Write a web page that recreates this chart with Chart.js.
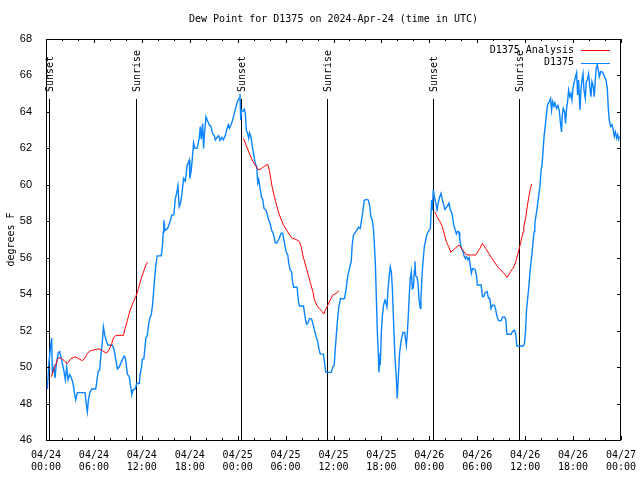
<!DOCTYPE html>
<html>
<head>
<meta charset="utf-8">
<title>Dew Point for D1375</title>
<script src="https://cdn.jsdelivr.net/npm/chart.js@4.4.1/dist/chart.umd.min.js"></script>
<style>
  body { margin: 0; background: #fff; }
  #wrap { width: 640px; height: 480px; }
</style>
</head>
<body>
<div id="wrap"><canvas id="chartDew"></canvas></div>
<script>
// --- data (x = hours since 04/24 00:00 UTC)
const titleText = "Dew Point for D1375 on 2024-Apr-24 (time in UTC)";
const dayLabels = ["04/24", "04/25", "04/26", "04/27"];
const timeLabels = ["00:00", "06:00", "12:00", "18:00"];

const stationHours = [
  0.17, 0.38, 0.59, 0.71, 0.79, 1.0, 1.13, 1.3, 1.55, 1.71, 1.84, 2.05, 2.26, 2.42, 2.59, 2.76, 2.97, 3.18, 3.39, 3.55,
  3.72, 3.93, 4.35, 4.89, 5.06, 5.18, 5.31, 5.48, 5.73, 6.23, 6.36, 6.52, 6.73, 6.86, 7.07, 7.19, 7.36, 7.57, 7.78, 8.32,
  8.53, 8.74, 8.95, 9.16, 9.45, 9.78, 9.95, 10.08, 10.2, 10.41, 10.54, 10.66, 10.75, 10.91, 11.16, 11.37, 11.67, 11.79, 11.96, 12.08,
  12.25, 12.38, 12.5, 12.67, 12.84, 13.0, 13.17, 13.34, 13.46, 13.59, 13.76, 13.92, 14.43, 14.59, 14.68, 14.75, 14.9, 15.22, 15.55, 15.76,
  16.01, 16.18, 16.39, 16.52, 16.68, 16.85, 17.02, 17.14, 17.23, 17.43, 17.56, 17.68, 17.81, 17.94, 18.02, 18.19, 18.35, 18.48, 18.65, 18.9,
  19.07, 19.19, 19.32, 19.44, 19.61, 19.73, 19.86, 20.03, 20.24, 20.45, 20.66, 20.86, 21.07, 21.2, 21.41, 21.62, 21.78, 22.03, 22.2, 22.45,
  22.62, 22.83, 22.96, 23.17, 23.37, 23.58, 23.79, 24.0, 24.17, 24.29, 24.38, 24.5, 24.67, 24.84, 24.96, 25.09, 25.26, 25.38, 25.5, 25.68,
  25.8, 25.97, 26.18, 26.39, 26.51, 26.64, 26.8, 26.97, 27.14, 27.3, 27.56, 27.72, 27.89, 28.06, 28.22, 28.47, 28.73, 28.89, 29.14, 29.44,
  29.64, 29.9, 30.07, 30.27, 30.4, 30.57, 30.73, 30.9, 31.02, 31.44, 31.61, 31.74, 32.24, 32.36, 32.49, 32.61, 32.78, 32.99, 33.24, 33.41,
  33.62, 33.83, 34.03, 34.16, 34.33, 34.75, 34.91, 35.04, 35.71, 35.92, 36.09, 36.21, 36.34, 36.5, 36.67, 36.88, 37.17, 37.38, 37.59, 37.8,
  38.01, 38.22, 38.34, 38.51, 38.76, 39.14, 39.35, 39.51, 39.68, 39.85, 40.1, 40.35, 40.51, 40.68, 40.85, 41.02, 41.23, 41.36, 41.48, 41.61,
  41.69, 41.77, 41.86, 41.98, 42.11, 42.27, 42.44, 42.52, 42.69, 42.82, 42.94, 43.11, 43.24, 43.36, 43.53, 43.69, 43.86, 43.98, 44.11, 44.28,
  44.49, 44.7, 44.91, 45.12, 45.24, 45.37, 45.49, 45.62, 45.74, 45.87, 46.0, 46.12, 46.2, 46.29, 46.45, 46.58, 46.7, 46.87, 46.95, 47.08,
  47.2, 47.37, 47.54, 47.71, 47.96, 48.13, 48.29, 48.38, 48.5, 48.63, 48.8, 48.96, 49.13, 49.3, 49.46, 49.63, 49.8, 49.96, 50.21, 50.47,
  50.63, 50.84, 51.05, 51.26, 51.39, 51.56, 51.72, 51.81, 52.02, 52.22, 52.35, 52.52, 52.65, 52.81, 52.98, 53.15, 53.27, 53.4, 53.56, 53.73,
  53.9, 54.02, 54.48, 54.65, 54.82, 54.98, 55.23, 55.41, 55.57, 55.73, 55.91, 56.16, 56.32, 56.49, 56.66, 56.99, 57.16, 57.41, 57.58, 57.66,
  57.74, 58.24, 58.42, 58.67, 58.83, 58.96, 59.75, 59.92, 60.05, 60.17, 60.34, 60.46, 60.59, 60.75, 60.88, 61.0, 61.13, 61.21, 61.43, 61.63,
  61.84, 62.0, 62.13, 62.26, 62.38, 62.51, 62.68, 62.8, 63.01, 63.18, 63.3, 63.43, 63.6, 63.72, 63.93, 64.1, 64.26, 64.43, 64.56, 64.64,
  64.77, 64.94, 65.06, 65.19, 65.31, 65.44, 65.6, 65.73, 65.86, 65.98, 66.15, 66.31, 66.44, 66.57, 66.69, 66.86, 66.98, 67.11, 67.24, 67.36,
  67.53, 67.65, 67.78, 67.95, 68.11, 68.24, 68.36, 68.53, 68.65, 68.78, 68.9, 69.03, 69.16, 69.28, 69.45, 69.62, 69.78, 69.95, 70.12, 70.28,
  70.41, 70.53, 70.71, 70.87, 71.04, 71.16, 71.29, 71.46, 71.58, 71.71, 71.79
];
const stationValues = [
  48.8, 50.3, 51.2, 51.6, 49.7, 50.0, 49.4, 50.2, 50.8, 50.85, 50.6, 50.2, 49.75, 49.3, 50.0, 49.3, 49.6, 49.4, 49.1, 48.6,
  48.2, 48.6, 48.6, 48.6, 47.9, 47.55, 48.2, 48.6, 48.8, 48.8, 49.2, 49.75, 49.85, 50.6, 51.45, 52.2, 51.75, 51.4, 51.2, 51.2,
  50.95, 50.4, 49.9, 50.0, 50.3, 50.6, 50.5, 50.0, 49.6, 49.5, 49.1, 48.75, 48.5, 48.75, 48.8, 49.1, 49.1, 49.6, 50.0, 50.45,
  50.45, 51.0, 51.6, 51.7, 52.3, 52.7, 52.85, 53.4, 54.05, 54.8, 55.6, 56.1, 56.1, 56.7, 57.4, 58.05, 57.5, 57.6, 58.0, 58.35,
  58.35, 59.2, 59.6, 59.95, 58.8, 59.0, 59.5, 60.0, 60.35, 60.2, 60.6, 61.1, 61.2, 61.35, 60.35, 60.8, 61.6, 62.3, 62.0, 62.0,
  62.3, 62.55, 63.2, 62.5, 63.36, 62.0, 62.9, 63.73, 63.5, 63.28, 63.2, 62.8, 62.7, 62.46, 62.6, 62.7, 62.43, 62.6, 62.46, 62.7,
  63.0, 63.3, 63.1, 63.3, 63.55, 63.92, 64.28, 64.6, 64.74, 65.0, 63.55, 64.1, 64.05, 64.15, 63.9, 63.0, 62.8, 62.55, 62.85, 62.6,
  62.2, 61.74, 61.2, 61.0, 60.1, 60.3, 59.8, 59.35, 59.2, 58.7, 58.6, 58.35, 58.07, 57.9, 57.55, 57.3, 56.8, 56.8, 57.0, 57.34,
  57.34, 56.7, 56.33, 56.15, 55.7, 55.33, 55.25, 54.6, 54.38, 54.38, 53.6, 53.35, 53.35, 53.0, 52.62, 52.35, 52.4, 52.67, 52.65, 52.4,
  52.03, 51.67, 51.4, 51.03, 50.72, 50.7, 50.11, 49.71, 49.71, 50.0, 50.1, 50.94, 51.67, 52.58, 53.31, 53.77, 53.74, 53.77, 54.32, 55.05,
  55.4, 55.8, 56.7, 57.25, 57.4, 57.67, 57.6, 58.07, 58.54, 59.14, 59.2, 59.17, 58.9, 58.26, 58.07, 57.5, 55.8, 53.87, 52.03, 50.76,
  49.7, 50.4, 50.1, 51.85, 52.76, 53.4, 53.68, 53.6, 53.3, 54.23, 54.87, 55.5, 55.23, 54.41, 52.4, 50.57, 49.47, 48.28, 49.4, 50.8,
  51.5, 51.9, 51.9, 51.2, 51.8, 52.86, 53.95, 54.87, 55.23, 54.3, 54.35, 55.3, 55.8, 55.0, 54.95, 54.6, 53.77, 53.22, 53.77, 54.97,
  55.73, 56.6, 56.97, 57.3, 57.5, 57.6, 59.17, 58.6, 59.75, 59.35, 59.03, 58.63, 59.03, 59.35, 59.53, 59.17, 58.9, 58.65, 58.8, 59.0,
  58.63, 58.43, 57.8, 57.5, 57.3, 57.45, 57.4, 57.0, 56.5, 56.35, 56.1, 55.96, 56.05, 55.9, 56.0, 55.5, 55.15, 55.4, 55.4, 55.35,
  55.04, 54.5, 54.5, 53.87, 53.87, 54.08, 54.14, 53.77, 53.77, 53.22, 53.4, 53.4, 53.13, 52.76, 52.55, 52.55, 52.73, 52.76, 52.6, 52.03,
  51.8, 51.8, 51.95, 52.03, 51.8, 51.16, 51.16, 51.3, 52.03, 53.13, 53.87, 54.41, 55.14, 55.8, 56.33, 56.97, 57.43, 57.88, 58.52, 59.17,
  59.9, 60.81, 61.18, 62.0, 62.73, 63.19, 63.92, 64.38, 64.56, 64.74, 64.1, 64.56, 64.3, 64.5, 64.2, 64.35, 64.1, 63.36, 62.9, 63.8,
  64.2, 64.0, 63.36, 64.2, 64.56, 65.2, 64.83, 65.0, 64.65, 65.29, 65.66, 65.93, 66.15, 64.93, 65.75, 64.1, 65.2, 65.75, 66.1, 65.2,
  64.74, 65.66, 65.75, 66.1, 65.3, 64.83, 65.66, 65.4, 64.83, 65.75, 66.4, 66.57, 66.3, 65.93, 66.2, 66.2, 66.1, 65.93, 65.75, 65.3,
  64.2, 63.55, 63.2, 63.3, 63.0, 62.65, 62.9, 62.55, 62.75, 62.5, 62.65
];

// analysis runs: null marks a break between the three runs
const analysisHours = [
  0.67, 1.0, 1.21, 1.42, 1.63, 2.05, 2.38, 2.68, 3.09, 3.64, 4.14, 4.56, 4.89, 5.18, 5.6, 6.02, 6.65, 7.07, 7.57, 7.9,
  8.24, 8.45, 8.74, 9.7, 9.91, 10.2, 10.54, 10.95, 11.25, 11.58, 11.87, 12.21, 12.5, 12.71,
  18,
  24.71, 25.05, 25.46, 25.88, 26.3, 26.63, 27.14, 27.76, 27.97, 28.31, 28.73, 29.23, 29.73, 30.15, 30.27, 30.73, 31.32, 31.74, 31.95, 32.15,
  32.49, 32.78, 33.12, 33.41, 33.62, 33.91, 34.25, 34.54, 34.79, 35.0, 35.29, 35.58, 35.92, 36.34, 36.67,
  42,
  48.67, 48.96, 49.3, 49.63, 49.8, 50.13, 50.43, 50.68, 51.18, 51.72, 52.22, 52.65, 53.27, 53.81, 54.32, 54.65, 55.07, 55.57, 56.11, 56.7,
  57.24, 57.74, 58.16, 58.58, 58.83, 59.04, 59.25, 59.46, 59.75, 59.83, 60.09, 60.29, 60.5, 60.67, 60.8
];
const analysisValues = [
  49.47, 49.9, 50.11, 50.4, 50.53, 50.45, 50.3, 50.2, 50.45, 50.57, 50.45, 50.35, 50.5, 50.76, 50.9, 50.95, 51.0, 50.9, 50.76, 50.95,
  51.3, 51.6, 51.74, 51.74, 52.13, 52.58, 53.13, 53.59, 53.87, 54.32, 54.78, 55.23, 55.6, 55.75,
  null,
  62.55, 62.18, 61.73, 61.3, 61.0, 60.81, 60.95, 61.13, 60.8, 59.9, 59.1, 58.34, 57.8, 57.5, 57.42, 57.1, 57.0, 56.88, 56.6, 56.15,
  55.6, 55.15, 54.6, 54.14, 53.68, 53.4, 53.2, 53.06, 52.91, 53.15, 53.4, 53.68, 53.95, 54.05, 54.17,
  null,
  58.52, 58.26, 58.0, 57.7, 57.42, 56.88, 56.6, 56.3, 56.5, 56.7, 56.4, 56.15, 56.15, 56.15, 56.5, 56.79, 56.5, 56.15, 55.78, 55.42,
  55.2, 54.92, 55.23, 55.5, 55.78, 56.15, 56.5, 56.88, 57.42, 57.7, 58.26, 58.9, 59.45, 59.8, 60.04
];

// sun events (hours since 04/24 00:00 UTC)
const sunEventHours = [0.38, 11.27, 24.45, 35.22, 48.5, 59.27];
const sunEventNames = ["Sunset", "Sunrise", "Sunset", "Sunrise", "Sunset", "Sunrise"];

const MONO = "'DejaVu Sans Mono', 'Liberation Mono', monospace";
const SANS = "'Liberation Sans', Arial, sans-serif";

function toPoints(xs, ys) {
  return xs.map((x, i) => ({ x: x, y: ys[i] }));
}

// gnuplot-like frame, inward ticks, sun markers, legend and title
const gnuFrame = {
  id: "gnuFrame",
  beforeDatasetsDraw(chart) {
    const { ctx, chartArea: a, scales } = chart;
    ctx.save();
    ctx.strokeStyle = "#000";
    ctx.lineWidth = 1;
    ctx.fillStyle = "#000";
    ctx.font = "10px " + MONO;
    sunEventHours.forEach((h, i) => {
      const px = Math.round(scales.x.getPixelForValue(h)) + 0.5;
      ctx.beginPath();
      ctx.moveTo(px, a.top + 60);
      ctx.lineTo(px, a.bottom);
      ctx.stroke();
      ctx.save();
      ctx.translate(px + 1, a.top + 53);
      ctx.rotate(-Math.PI / 2);
      ctx.textAlign = "left";
      ctx.textBaseline = "middle";
      ctx.fillText(sunEventNames[i], 0, 0);
      ctx.restore();
    });
    ctx.restore();
  },
  afterDraw(chart) {
    const { ctx, chartArea: a, scales } = chart;
    ctx.save();
    ctx.strokeStyle = "#000";
    ctx.lineWidth = 1;
    ctx.strokeRect(a.left + 0.5, a.top + 0.5, a.right - a.left - 1, a.bottom - a.top);

    // x ticks every 2 h, major every 6 h, on bottom and top
    ctx.beginPath();
    for (let h = 0; h <= 72; h += 2) {
      const px = Math.round(scales.x.getPixelForValue(h)) + 0.5;
      const len = h % 6 === 0 ? 4 : 2;
      ctx.moveTo(px, a.bottom);
      ctx.lineTo(px, a.bottom - len);
      ctx.moveTo(px, a.top);
      ctx.lineTo(px, a.top + len);
    }
    // y ticks on left and right
    scales.y.ticks.forEach((t) => {
      const py = Math.round(scales.y.getPixelForValue(t.value)) + 0.5;
      ctx.moveTo(a.left, py);
      ctx.lineTo(a.left + 4, py);
      ctx.moveTo(a.right, py);
      ctx.lineTo(a.right - 4, py);
    });
    ctx.stroke();

    // legend, top right inside plot
    ctx.font = "10px " + MONO;
    ctx.textAlign = "right";
    ctx.textBaseline = "middle";
    chart.data.datasets.forEach((ds, i) => {
      const y = a.top + 11 + i * 12.5;
      ctx.fillStyle = "#000";
      ctx.fillText(ds.label, a.right - 47, y);
      ctx.strokeStyle = ds.borderColor;
      ctx.lineWidth = 1;
      ctx.beginPath();
      ctx.moveTo(a.right - 40, Math.round(y) + 0.5);
      ctx.lineTo(a.right - 11, Math.round(y) + 0.5);
      ctx.stroke();
    });

    // title
    ctx.fillStyle = "#000";
    ctx.textAlign = "center";
    ctx.fillText(titleText, (a.left + a.right) / 2, 19.5);
    ctx.restore();
  },
};

const ctxDew = document.getElementById("chartDew").getContext("2d");
const chartDew = new Chart(ctxDew, {
  type: "line",
  data: {
    datasets: [
      {
        label: "D1375 Analysis",
        data: toPoints(analysisHours, analysisValues),
        borderColor: "#ff0000",
        borderWidth: 1,
        pointRadius: 0,
        tension: 0,
        spanGaps: false,
      },
      {
        label: "D1375",
        data: toPoints(stationHours, stationValues),
        borderColor: "#0a84ff",
        borderWidth: 1.4,
        pointRadius: 0,
        tension: 0,
      },
    ],
  },
  options: {
    animation: false,
    responsive: true,
    maintainAspectRatio: false,
    devicePixelRatio: 1,
    layout: { padding: { top: 39, right: 19, left: 0, bottom: 0 } },
    plugins: {
      legend: { display: false },
      title: { display: false },
      tooltip: { enabled: false },
    },
    scales: {
      x: {
        type: "linear",
        min: 0,
        max: 72,
        grid: { display: false },
        border: { display: false },
        ticks: {
          stepSize: 6,
          autoSkip: false,
          maxRotation: 0,
          padding: 1,
          color: "#000",
          font: { family: MONO, size: 10, lineHeight: 1.2 },
          callback: (v) => [dayLabels[Math.floor(v / 24)], timeLabels[(v % 24) / 6]],
        },
        afterFit(s) {
          s.height = 40;
          s.paddingLeft = 0;
          s.paddingRight = 0;
        },
      },
      y: {
        min: 46,
        max: 68,
        grid: { display: false },
        border: { display: false },
        ticks: {
          stepSize: 2,
          padding: 6,
          color: "#000",
          font: { family: SANS, size: 11 },
        },
        title: {
          display: true,
          text: "degrees F",
          color: "#000",
          font: { family: MONO, size: 10, lineHeight: 1.2 },
          padding: { top: 5, bottom: 0 },
        },
        afterFit(s) {
          s.width = 46;
          s.paddingTop = 0;
          s.paddingBottom = 0;
        },
      },
    },
  },
  plugins: [gnuFrame],
});
</script>
</body>
</html>
